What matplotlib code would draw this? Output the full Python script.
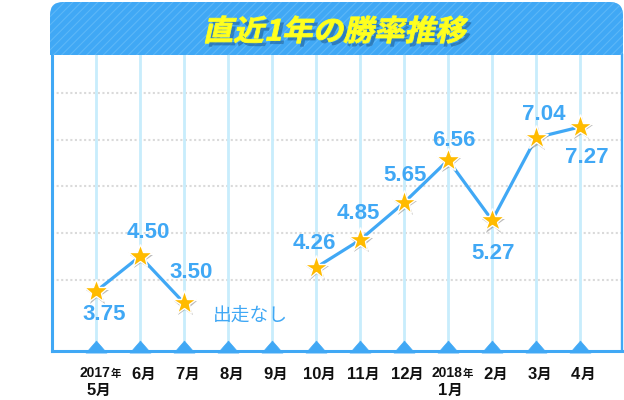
import numpy as np
import matplotlib
matplotlib.use('Agg')
import matplotlib.pyplot as plt
import matplotlib.patheffects as pe
from matplotlib.patches import FancyBboxPatch, Rectangle, PathPatch
from matplotlib.path import Path
from matplotlib.textpath import TextPath
from matplotlib.font_manager import FontProperties
from matplotlib.transforms import Affine2D

# ==== data ====
title = '直近1年の勝率推移'
month_nums = ['5', '6', '7', '8', '9', '10', '11', '12', '1', '2', '3', '4']
year_tags = ['2017', '', '', '', '', '', '', '', '2018', '', '', '']
win_rate = [3.75, 4.50, 3.50, np.nan, np.nan, 4.26, 4.85, 5.65, 6.56, 5.27, 7.04, 7.27]
no_race_note = '出走なし'
grid_vals = [4, 5, 6, 7, 8]

# label offsets from the star, pixels (right, down)
label_off = [(8, 21), (8, -26), (7, -33), (0, 0), (0, 0), (-2, -26),
             (-2, -29), (1, -30), (6, -22), (1, 31), (8, -26), (7, 28)]

blue = '#40a8f5'
lib = 'Liberation Sans'
cjk = 'Noto Sans CJK JP'
plt.rcParams['hatch.linewidth'] = 0.8

fig = plt.figure(figsize=(6.24, 4), dpi=100)
ax = fig.add_axes([52/624, 49/400, 570/624, 296/400])
x = np.arange(len(month_nums))
ax.set_xlim(-1.0, 11.95)
ax.set_ylim(2.472, 8.81)
ax.set_xticks([])
ax.set_yticks([])

# ==== grid ====
for v in grid_vals:
    ax.axhline(v, color='#dadada', lw=1.5, ls=(0, (1, 1.2)), zorder=1)
for xi in x:
    ax.axvline(xi, color='#c8edfc', lw=2, zorder=2)

ax.spines['top'].set_visible(False)
for s in ['left', 'bottom']:
    ax.spines[s].set_color(blue)
    ax.spines[s].set_linewidth(2.2)
ax.spines['right'].set_color(blue)
ax.spines['right'].set_linewidth(1.7)

# ==== line + stars ====
ax.plot(x, win_rate, color=blue, lw=2.3, zorder=3, solid_capstyle='round')
ax.plot(x, win_rate, ls='none', marker='*', ms=18, mfc='#ffbb00', mec='white',
        mew=1, zorder=4,
        path_effects=[pe.SimplePatchShadow(offset=(1, -1.5), shadow_rgbFace='#777777', alpha=0.5),
                      pe.Normal()])

for xi, v, (dx, dy) in zip(x, win_rate, label_off):
    if np.isnan(v):
        continue
    ax.annotate(f'{v:.2f}', (xi, v), xytext=(dx, -dy - 8), textcoords='offset pixels',
                ha='center', va='baseline', color=blue, fontsize=16,
                fontweight='bold', family=lib, zorder=5)

ax.text(3.5, 3.22, no_race_note, ha='center', va='center', color=blue,
        fontsize=13.5, family=cjk)

# triangles sitting on the bottom axis
tri = Path([(-1, -0.15), (1, -0.15), (0, 1.0), (-1, -0.15)], closed=True)
ax.plot(x, [ax.get_ylim()[0]] * len(x), ls='none', marker=tri, ms=15,
        mfc=blue, mec=blue, mew=0.5, clip_on=False, zorder=6)

# ==== month labels (mixed sizes) ====
groups = []


def month_label(xi, pieces, base_px, shift=3):
    arts = []
    for s, fs, fam in pieces:
        t = ax.annotate(s, xy=(xi, 0), xycoords=('data', 'axes fraction'),
                        xytext=(0, base_px), textcoords='offset pixels',
                        ha='left', va='baseline', fontsize=fs, fontweight='bold',
                        family=fam, color='#111111', annotation_clip=False)
        arts.append(t)
    groups.append((arts, base_px, shift))


for xi, m, yr in zip(x, month_nums, year_tags):
    if yr:
        month_label(xi, [(yr, 10, lib), ('年', 7.5, cjk)], -26, shift=4)
        month_label(xi, [(m, 12, lib), ('月', 10.5, cjk)], -44, shift=2)
    else:
        month_label(xi, [(m, 12, lib), ('月', 10.5, cjk)], -28)

# ==== header band ====
hdr = FancyBboxPatch((0.50, 3.45), 5.73, 0.53,
                     boxstyle='round,pad=0,rounding_size=0.13',
                     transform=fig.dpi_scale_trans, fc=blue, ec='#5cb7f8',
                     lw=0, hatch='////', zorder=1)
hdr2 = Rectangle((0.50, 3.45), 5.73, 0.2, transform=fig.dpi_scale_trans,
                 fc=blue, ec='#5cb7f8', lw=0, hatch='////', zorder=1)
fig.add_artist(hdr)
fig.add_artist(hdr2)

fp = FontProperties(family=cjk, weight='bold')
tp = TextPath((0, 0), title, size=21, prop=fp)
ext = tp.get_extents()
cx = (ext.x0 + ext.x1) / 2
cy = (ext.y0 + ext.y1) / 2
tr = Affine2D().translate(-cx, -cy).skew_deg(12, 0).scale(1.05/72, 1/72) \
    .translate(3.37, 3.705) + fig.dpi_scale_trans
ttl = PathPatch(tp, transform=tr, fc='#ffff1e', ec='#ffff1e', lw=0.6, zorder=3,
                path_effects=[pe.SimplePatchShadow(offset=(2.5, -2.5),
                                                   shadow_rgbFace='#1d5a91', alpha=0.55),
                              pe.Normal()])
fig.add_artist(ttl)

# place label pieces side by side, centred on the tick
fig.canvas.draw()
renderer = fig.canvas.get_renderer()
for arts, base_px, shift in groups:
    widths = [t.get_window_extent(renderer).width for t in arts]
    pos = -sum(widths) / 2 + shift
    for t, w in zip(arts, widths):
        t.xyann = (pos, base_px)
        pos += w

fig.savefig('out.png', dpi=100)
